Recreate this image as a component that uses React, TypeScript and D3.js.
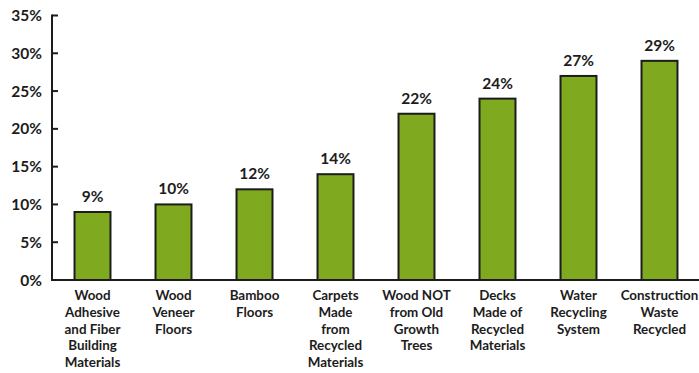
import React from "react";
import * as d3 from "d3";

const categories: string[][] = [
  ["Wood", "Adhesive", "and Fiber", "Building", "Materials"],
  ["Wood", "Veneer", "Floors"],
  ["Bamboo", "Floors"],
  ["Carpets", "Made", "from", "Recycled", "Materials"],
  ["Wood NOT", "from Old", "Growth", "Trees"],
  ["Decks", "Made of", "Recycled", "Materials"],
  ["Water", "Recycling", "System"],
  ["Construction", "Waste", "Recycled"],
];
const values: number[] = [9, 10, 12, 14, 22, 24, 27, 29];
const yTicks: number[] = [0, 5, 10, 15, 20, 25, 30, 35];

const W = 699;
const H = 373;
const left = 52;
const right = 700;
const y0 = 280;
const yTop = 15.5;
const font = "Lato, 'Open Sans', sans-serif";
const ink = "#1c1c1c";

export default function App() {
  const x = d3
    .scaleBand<number>()
    .domain(values.map((_, i) => i))
    .range([left, right])
    .paddingInner(0.556)
    .paddingOuter(0.278);
  const y = d3.scaleLinear().domain([0, 35]).range([y0, yTop]);
  const bw = x.bandwidth();

  return (
    <svg
      width={W}
      height={H}
      style={{ position: "absolute", left: 0, top: 0, background: "#fff" }}
    >
      {/* y axis */}
      <line x1={left} x2={left} y1={yTop - 1} y2={y0 + 1} stroke={ink} strokeWidth={2} />
      {yTicks.map((t) => (
        <g key={t}>
          <line x1={left} x2={left + 6} y1={y(t)} y2={y(t)} stroke={ink} strokeWidth={2} />
          <text
            x={42}
            y={y(t)}
            dy="0.36em"
            textAnchor="end"
            fontFamily={font}
            fontWeight={700}
            fontSize={15.5}
            fill={ink}
          >
            {t}%
          </text>
        </g>
      ))}
      {/* bars */}
      {values.map((v, i) => {
        const bx = x(i)!;
        return (
          <g key={i}>
            <rect
              x={bx}
              y={y(v)}
              width={bw}
              height={y0 - y(v)}
              fill="#7faa1f"
              stroke={ink}
              strokeWidth={2}
            />
            <text
              x={bx + bw / 2}
              y={y(v) - 10}
              textAnchor="middle"
              fontFamily={font}
              fontWeight={700}
              fontSize={15.5}
              fill={ink}
            >
              {v}%
            </text>
            {categories[i].map((ln, j) => (
              <text
                key={j}
                x={bx + bw / 2}
                y={300 + j * 16.8}
                textAnchor="middle"
                fontFamily={font}
                fontWeight={700}
                fontSize={13.4}
                fill={ink}
              >
                {ln}
              </text>
            ))}
          </g>
        );
      })}
      {/* x axis */}
      <line x1={left - 1} x2={W} y1={y0} y2={y0} stroke={ink} strokeWidth={2} />
    </svg>
  );
}
